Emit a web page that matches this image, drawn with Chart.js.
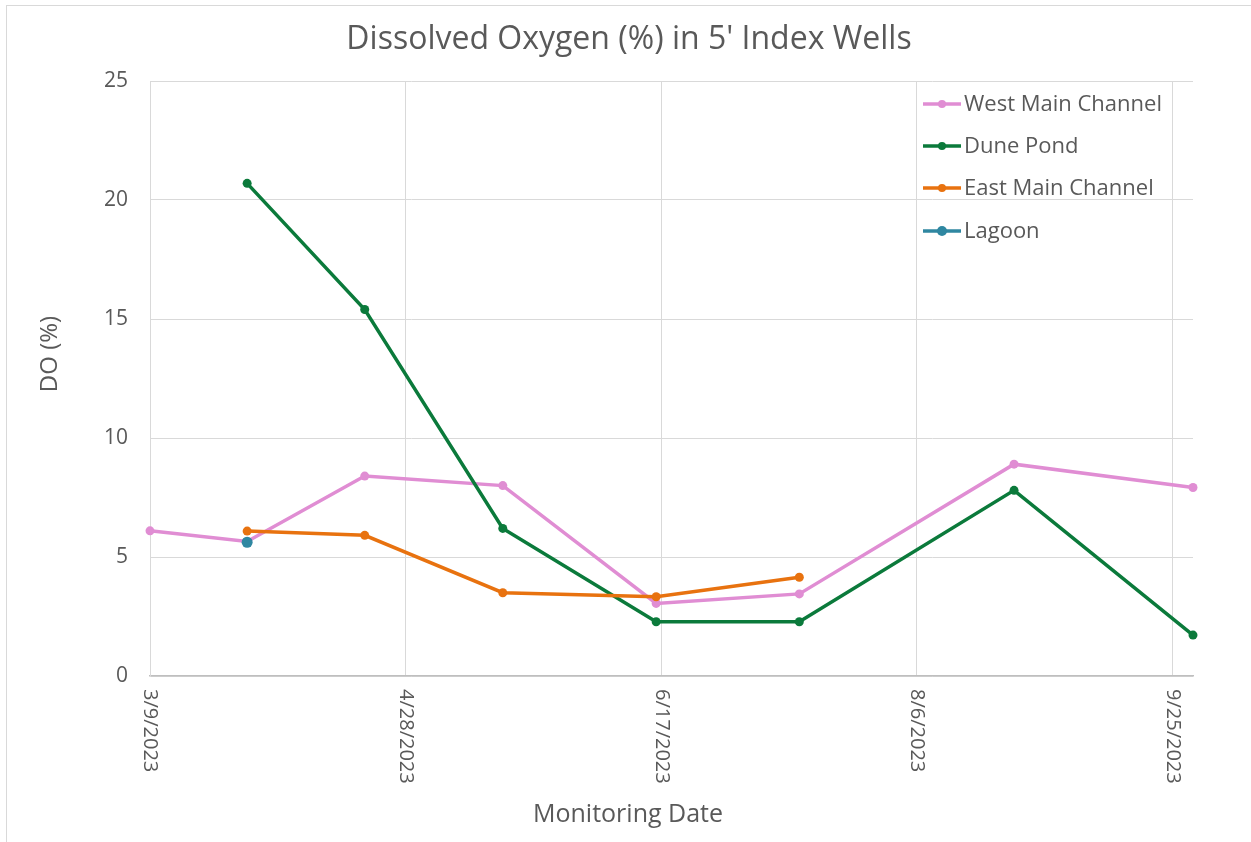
<!DOCTYPE html>
<html>
<head>
<meta charset="utf-8">
<title>Dissolved Oxygen (%) in 5' Index Wells</title>
<script src="https://cdn.jsdelivr.net/npm/chart.js@4.4.1/dist/chart.umd.min.js"></script>
<style>
  html, body { margin: 0; padding: 0; background: #fff; }
  #wrap { position: relative; width: 1251px; height: 842px; }
  #wrap:before {
    content: ""; position: absolute; left: 6px; top: 5px; right: -2px; bottom: -2px;
    border-left: 1px solid #d9d9d9; border-top: 1px solid #d9d9d9;
  }
  canvas { position: absolute; left: 0; top: 0; }
</style>
</head>
<body>
<div id="wrap"><canvas id="chart" width="1251" height="842"></canvas></div>
<script>
// --- données ---
const startDate = "3/9/2023";
const dates = ["3/9/2023", "3/28/2023", "4/20/2023", "5/17/2023", "6/16/2023", "7/14/2023", "8/25/2023", "9/29/2023"];
const westMain = [6.1, 5.65, 8.4, 8.0, 3.05, 3.45, 8.9, 7.92];
const dunePond = [null, 20.7, 15.4, 6.2, 2.28, 2.28, 7.8, 1.72];
const eastMain = [null, 6.09, 5.91, 3.5, 3.33, 4.15, null, null];
const lagoon = [null, 5.62, null, null, null, null, null, null];

const seriesNames = ["West Main Channel", "Dune Pond", "East Main Channel", "Lagoon"];
const seriesColors = ["#e08dd3", "#0b7a3b", "#e8720f", "#2f87a1"];

const yTicks = [0, 5, 10, 15, 20, 25];
const xTickStep = 50; // jours
const xMaxDay = 204;

const FONT = "'Open Sans', 'Liberation Sans', sans-serif";
const TEXT = "#595959";

function parseDate(s) {
  const [m, d, y] = s.split("/").map(Number);
  return Date.UTC(y, m - 1, d);
}
const DAY = 86400000;
const t0 = parseDate(startDate);
const dayOf = (s) => Math.round((parseDate(s) - t0) / DAY);
const fmtDay = (n) => {
  const d = new Date(t0 + n * DAY);
  return (d.getUTCMonth() + 1) + "/" + d.getUTCDate() + "/" + d.getUTCFullYear();
};

function toPoints(values) {
  const pts = [];
  values.forEach((v, i) => {
    if (v !== null) pts.push({ x: dayOf(dates[i]), y: v });
  });
  return pts;
}

const allSeries = [westMain, dunePond, eastMain, lagoon];

/* -----------------------------------------
   Textes : titre, axes, libellés X, légende
------------------------------------------ */
const decorPlugin = {
  id: "decor",
  afterDraw(chart) {
    const ctx = chart.ctx;
    const area = chart.chartArea;
    const xs = chart.scales.x;
    ctx.save();
    ctx.fillStyle = TEXT;

    // titre
    ctx.font = "32px " + FONT;
    ctx.textAlign = "center";
    ctx.textBaseline = "middle";
    ctx.fillText("Dissolved Oxygen (%) in 5' Index Wells", 629, 40);

    // titre axe X
    ctx.font = "25px " + FONT;
    ctx.fillText("Monitoring Date", 628, 815);

    // titre axe Y
    ctx.save();
    ctx.translate(50, 354);
    ctx.rotate(-Math.PI / 2);
    ctx.font = "24px " + FONT;
    ctx.fillText("DO (%)", 0, 0);
    ctx.restore();

    // libellés X tournés (sens horaire)
    ctx.font = "20px " + FONT;
    ctx.textAlign = "left";
    xs.ticks.forEach((t) => {
      const px = xs.getPixelForValue(t.value);
      ctx.save();
      ctx.translate(px, area.bottom + 13);
      ctx.rotate(Math.PI / 2);
      ctx.fillText(fmtDay(t.value), 0, 0);
      ctx.restore();
    });

    // légende
    ctx.font = "22px " + FONT;
    ctx.textAlign = "left";
    const rowsY = [104, 146, 188, 231];
    seriesNames.forEach((name, i) => {
      const y = rowsY[i];
      ctx.strokeStyle = seriesColors[i];
      ctx.lineWidth = 3.5;
      ctx.beginPath();
      ctx.moveTo(923, y);
      ctx.lineTo(961, y);
      ctx.stroke();
      ctx.fillStyle = seriesColors[i];
      ctx.beginPath();
      ctx.arc(942, y, i === 3 ? 5 : 4, 0, Math.PI * 2);
      ctx.fill();
      ctx.fillStyle = TEXT;
      ctx.fillText(name, 964, y + 1);
    });
    ctx.restore();
  },
};

const datasets = allSeries.map((vals, i) => ({
  label: seriesNames[i],
  data: toPoints(vals),
  borderColor: seriesColors[i],
  backgroundColor: seriesColors[i],
  borderWidth: 3.5,
  pointRadius: i === 3 ? 5.5 : 4.5,
  pointHoverRadius: 5,
  pointBorderWidth: 0,
  tension: 0,
  clip: false,
  order: 3 - i,
}));

new Chart(document.getElementById("chart"), {
  type: "line",
  data: { datasets },
  options: {
    responsive: false,
    animation: false,
    layout: { padding: { left: 0, top: 81, right: 58, bottom: 0 } },
    plugins: {
      legend: { display: false },
      title: { display: false },
      tooltip: { enabled: false },
    },
    scales: {
      x: {
        type: "linear",
        min: 0,
        max: xMaxDay,
        afterFit(scale) { scale.height = 842 - 676; },
        afterBuildTicks(scale) {
          const t = [];
          for (let v = 0; v <= xMaxDay; v += xTickStep) t.push({ value: v });
          scale.ticks = t;
        },
        ticks: { display: false },
        grid: { color: "#d9d9d9", lineWidth: 1, drawTicks: false },
        border: { color: "#bfbfbf", width: 1.5 },
      },
      y: {
        min: 0,
        max: 25,
        afterFit(scale) { scale.width = 150; },
        afterBuildTicks(scale) { scale.ticks = yTicks.map((v) => ({ value: v })); },
        ticks: {
          color: TEXT,
          font: { family: FONT, size: 21 },
          padding: 22,
        },
        grid: { color: "#d9d9d9", lineWidth: 1, drawTicks: false },
        border: { color: "#d9d9d9", width: 1 },
      },
    },
  },
  plugins: [decorPlugin],
});
</script>
</body>
</html>
